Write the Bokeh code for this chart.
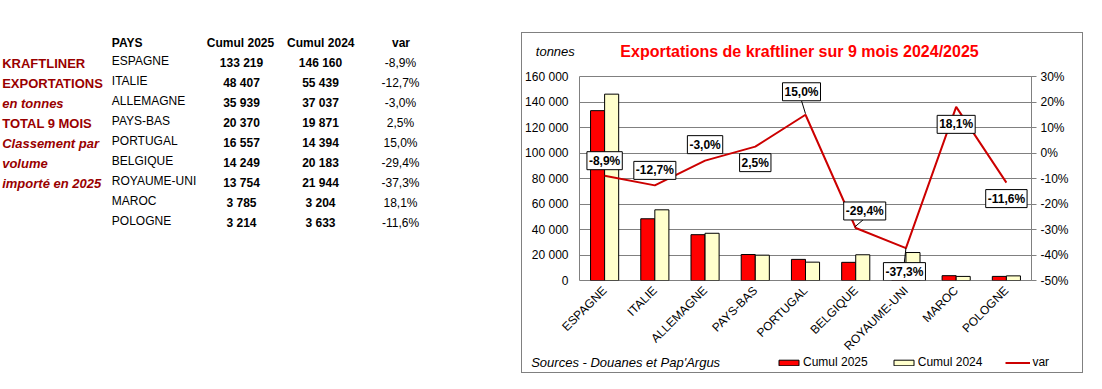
import math
from bokeh.plotting import figure
from bokeh.models import (Range1d, LinearAxis, FactorRange, Label, Legend, LegendItem,
                          FixedTicker, Spacer, ColumnDataSource)
from bokeh.layouts import row, column
from bokeh.transform import dodge
from bokeh.embed import file_html
from bokeh.resources import INLINE
from bokeh.core.properties import value

FONT = "Liberation Sans"

# ---------------- data ----------------
countries = ["ESPAGNE", "ITALIE", "ALLEMAGNE", "PAYS-BAS", "PORTUGAL",
             "BELGIQUE", "ROYAUME-UNI", "MAROC", "POLOGNE"]
cumul_2025 = [133219, 48407, 35939, 20370, 16557, 14249, 13754, 3785, 3214]
cumul_2024 = [146160, 55439, 37037, 19871, 14394, 20183, 21944, 3204, 3633]
var_pct = [-8.9, -12.7, -3.0, 2.5, 15.0, -29.4, -37.3, 18.1, -11.6]

left_ticks = [0, 20000, 40000, 60000, 80000, 100000, 120000, 140000, 160000]
left_tick_labels = ["0", "20 000", "40 000", "60 000", "80 000", "100 000",
                    "120 000", "140 000", "160 000"]
right_ticks = [-50, -40, -30, -20, -10, 0, 10, 20, 30]
right_tick_labels = ["-50%", "-40%", "-30%", "-20%", "-10%", "0%", "10%", "20%", "30%"]

side_titles = ["KRAFTLINER", "EXPORTATIONS", "en tonnes", "TOTAL 9 MOIS",
               "Classement par", "volume", "importé en 2025"]
side_italic = [False, False, True, False, True, True, True]
table_headers = ["PAYS", "Cumul 2025", "Cumul 2024", "var"]

chart_title = "Exportations de kraftliner sur 9 mois 2024/2025"
unit_text = "tonnes"
source_text = "Sources - Douanes et Pap'Argus"
series_names = ["Cumul 2025", "Cumul 2024", "var"]

# label placement (pixel offsets from each point; style, not data)
label_dx = [0, 0, 0, 0, -4, 9, -1.5, 0, 0]
label_dy = [15, 15, 16, -16, 23, 17, -23.5, -17.5, -16]

COL_25, COL_24, COL_VAR = "#FF0000", "#FFFFCC", "#CC0000"
GRAY = "#808080"


def fmt_int(v):
    return f"{v:,}".replace(",", " ")


def fmt_pct(v):
    return f"{v:.1f}%".replace(".", ",")


# ---------------- table (left) ----------------
TW, TH = 521, 300
tbl = figure(width=TW, height=TH, x_range=Range1d(0, TW), y_range=Range1d(TH, 0),
             x_axis_type=None, y_axis_type=None, toolbar_location=None,
             output_backend="svg", min_border=0, outline_line_color=None)
tbl.grid.visible = False

n = len(countries)
row_y_names = [60.7 + 20 * i for i in range(n)]
row_y_vals = [62.7 + 20 * i for i in range(n)]
hdr_y = 42.7

common = dict(text_font=value(FONT), text_font_size="12px", text_baseline="middle")
tbl.text(x=[111.3], y=[hdr_y], text=[table_headers[0]], text_align="left",
         text_font_style="bold", text_color="black", **common)
tbl.text(x=[240, 320.3, 400.5], y=[hdr_y] * 3, text=table_headers[1:], text_align="center",
         text_font_style="bold", text_color="black", **common)
tbl.text(x=[111.3] * n, y=row_y_names, text=countries, text_align="left",
         text_color="black", **common)
tbl.text(x=[241] * n, y=row_y_vals, text=[fmt_int(v) for v in cumul_2025],
         text_align="center", text_font_style="bold", text_color="black", **common)
tbl.text(x=[320] * n, y=row_y_vals, text=[fmt_int(v) for v in cumul_2024],
         text_align="center", text_font_style="bold", text_color="black", **common)
tbl.text(x=[400] * n, y=row_y_vals, text=[fmt_pct(v) for v in var_pct],
         text_align="center", text_color="black", **common)

side_src = ColumnDataSource(dict(
    x=[1.7] * len(side_titles),
    y=[63.3 + 20 * i for i in range(len(side_titles))],
    t=side_titles,
    s=["bold italic" if it else "bold" for it in side_italic]))
tbl.text(x="x", y="y", text="t", text_font_style="s", source=side_src,
         text_font=value(FONT), text_font_size="13px", text_baseline="middle",
         text_align="left", text_color="#990000")

# ---------------- chart (right) ----------------
CW, CH = 560, 339
p = figure(width=CW, height=CH, x_range=FactorRange(*countries),
           y_range=Range1d(0, 160000), output_backend="svg", toolbar_location=None,
           min_border_left=54, min_border_right=51, min_border_top=43,
           min_border_bottom=92, title=None)
p.extra_y_ranges = {"pct": Range1d(-50, 30)}
p.background_fill_color = "white"
p.border_fill_color = "white"
p.outline_line_color = GRAY
p.outline_line_width = 1

p.xgrid.visible = False
p.ygrid.ticker = FixedTicker(ticks=left_ticks)
p.ygrid.grid_line_color = GRAY
p.ygrid.grid_line_width = 1

yax = p.yaxis[0]
yax.ticker = FixedTicker(ticks=left_ticks)
yax.major_label_overrides = {t: l for t, l in zip(left_ticks, left_tick_labels)}
yax.major_tick_out = 0
yax.major_tick_in = 0
yax.minor_tick_out = 0
yax.minor_tick_in = 0
yax.axis_line_color = None
yax.major_label_standoff = 11
yax.major_label_text_font = FONT
yax.major_label_text_font_size = "12px"
yax.major_label_text_color = "black"

rax = LinearAxis(y_range_name="pct", ticker=FixedTicker(ticks=right_ticks))
rax.major_label_overrides = {t: l for t, l in zip(right_ticks, right_tick_labels)}
rax.major_tick_out = 5
rax.major_tick_in = 0
rax.minor_tick_out = 0
rax.minor_tick_in = 0
rax.major_tick_line_color = GRAY
rax.axis_line_color = GRAY
rax.major_label_standoff = 4
rax.major_label_text_font = FONT
rax.major_label_text_font_size = "12px"
rax.major_label_text_color = "black"
p.add_layout(rax, "right")

xax = p.xaxis[0]
xax.major_label_orientation = math.pi / 4
xax.major_tick_out = 0
xax.major_tick_in = 0
xax.axis_line_color = None
xax.major_label_standoff = 8
xax.major_label_text_font = FONT
xax.major_label_text_font_size = "12px"
xax.major_label_text_color = "black"

src = ColumnDataSource(dict(cat=countries, c25=cumul_2025, c24=cumul_2024, var=var_pct))
bar_style = dict(width=0.28, line_color="black", line_width=1)
p.vbar(x=dodge("cat", -0.14, range=p.x_range), top="c25", source=src,
       fill_color=COL_25, **bar_style)
p.vbar(x=dodge("cat", 0.14, range=p.x_range), top="c24", source=src,
       fill_color=COL_24, **bar_style)
p.line(x="cat", y="var", y_range_name="pct", source=src, line_color=COL_VAR, line_width=2)

# leader lines for a few labels (offsets in px converted to data units)
cat_px = 455 / n
pct_per_px = 80 / 204
leader = {4: (-4, 14, 0, 1), 5: (9, 9.5, -1, 1), 6: (-1.7, -15, 0, 0)}
lx0, ly0, lx1, ly1 = [], [], [], []
for i, (a, b, c, d) in leader.items():
    lx0.append([countries[i], a / cat_px])
    ly0.append(var_pct[i] + b * pct_per_px)
    lx1.append([countries[i], c / cat_px])
    ly1.append(var_pct[i] + d * pct_per_px)
p.segment(x0=lx0, y0=ly0, x1=lx1, y1=ly1, y_range_name="pct",
          line_color="black", line_width=1)

for i in range(n):
    # categorical synthetic coordinate of factor i is its centre: i + 0.5
    p.add_layout(Label(x=i + 0.5, y=var_pct[i], y_range_name="pct",
                       x_offset=label_dx[i], y_offset=label_dy[i],
                       text=fmt_pct(var_pct[i]), text_align="center",
                       text_baseline="middle", text_font=FONT,
                       text_font_size="12px", text_font_style="bold",
                       text_color="black", background_fill_color="white",
                       border_line_color="black", border_line_width=1,
                       padding=2))

# ---------------- transparent overlay: title, unit, sources, legend ----------------
ov = figure(width=CW, height=CH, x_range=Range1d(0, CW), y_range=Range1d(CH, 0),
            x_axis_type=None, y_axis_type=None, toolbar_location=None,
            output_backend="svg", min_border=0, outline_line_color=None,
            background_fill_color=None, border_fill_color=None)
ov.grid.visible = False
ov.text(x=[277], y=[17.5], text=[chart_title], text_align="center", text_baseline="middle",
        text_font=value(FONT), text_font_size="16px", text_font_style="bold",
        text_color="#FF0000")
ov.text(x=[13.3], y=[17.7], text=[unit_text], text_align="left", text_baseline="middle",
        text_font=value(FONT), text_font_size="13px", text_font_style="italic",
        text_color="black")
ov.text(x=[8.7], y=[328.7], text=[source_text], text_align="left", text_baseline="middle",
        text_font=value(FONT), text_font_size="13px", text_font_style="italic",
        text_color="black")

# legend proxies: one undrawn (NaN) row each so the legend can draw its swatches
nan = float("nan")
proxy = ColumnDataSource(dict(x=[nan], top=[nan], y=[nan]))
g25 = ov.vbar(x="x", top="top", source=proxy, fill_color=COL_25, **bar_style)
g24 = ov.vbar(x="x", top="top", source=proxy, fill_color=COL_24, **bar_style)
gvar = ov.line(x="x", y="y", source=proxy, line_color=COL_VAR, line_width=2)

legend = Legend(items=[LegendItem(label=series_names[0], renderers=[g25]),
                       LegendItem(label=series_names[1], renderers=[g24]),
                       LegendItem(label=series_names[2], renderers=[gvar])],
                orientation="horizontal", location=(254, 3),
                glyph_width=25, glyph_height=7, label_standoff=2, spacing=23,
                padding=0, margin=0, border_line_color=None, background_fill_alpha=0,
                label_text_font=FONT, label_text_font_size="12px",
                label_text_color="black", label_height=14)
ov.add_layout(legend)

# overlay wrapped in its own column so its frame is not aligned with p's frame
ov_wrap = column(ov, margin=(-CH, 0, 0, 0))
chart_box = column(p, ov_wrap, styles={"border": "1px solid #808080"})
layout = row(tbl, column(Spacer(height=32), chart_box))

with open("out.html", "w") as f:
    f.write(file_html(layout, INLINE))
